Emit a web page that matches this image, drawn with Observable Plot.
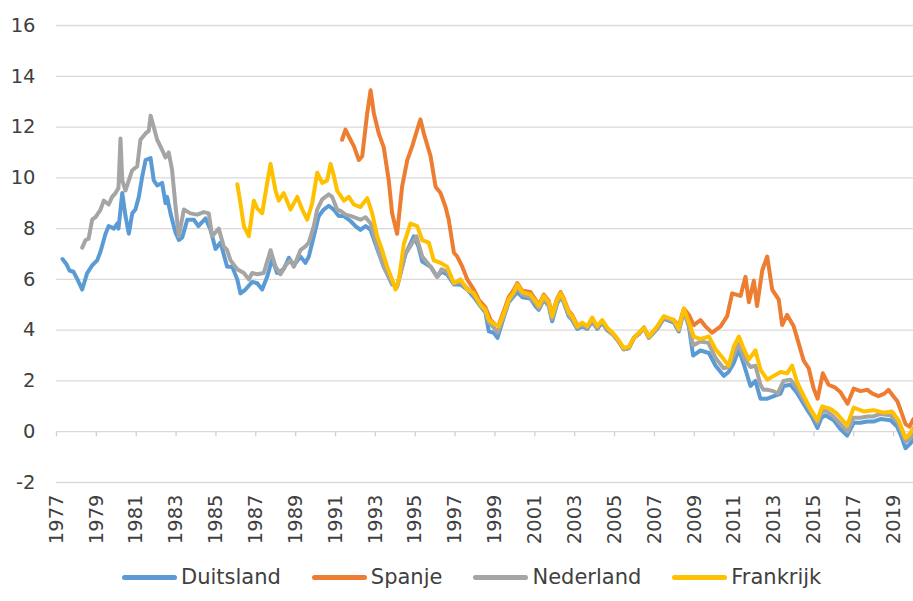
<!DOCTYPE html>
<html>
<head>
<meta charset="utf-8">
<script src="https://cdn.jsdelivr.net/npm/d3@7"></script>
<script src="https://cdn.jsdelivr.net/npm/@observablehq/plot@0.6"></script>
<style>
  html, body { margin: 0; padding: 0; background: #fff; }
  #legend { display: flex; align-items: center; height: 50px; margin-left: 122px;
    font-family: "DejaVu Sans", sans-serif; font-size: 21px; color: #404040; }
  #legend .item { display: flex; align-items: center; margin-right: 31px; }
  #legend .sw { display: inline-block; width: 55px; height: 5px; border-radius: 2.5px; margin-right: 4px; }
</style>
</head>
<body>
<div id="chart"></div>
<div id="legend"></div>
<script>
const landen = ["Duitsland", "Spanje", "Nederland", "Frankrijk"];
const kleuren = ["#5B9BD5", "#ED7D31", "#A5A5A5", "#FFC000"];
const xTicks = [1977,1979,1981,1983,1985,1987,1989,1991,1993,1995,1997,1999,2001,2003,2005,2007,2009,2011,2013,2015,2017,2019];
const yTicks = [-2,0,2,4,6,8,10,12,14,16];

const duitsland = [
[1977.30,6.8],[1977.50,6.6],[1977.65,6.35],[1977.85,6.3],[1978.05,6.0],[1978.29,5.6],[1978.54,6.25],[1978.79,6.55],
[1979.04,6.75],[1979.21,7.1],[1979.46,7.8],[1979.62,8.1],[1979.88,8.0],[1980.05,8.2],[1980.11,8.0],[1980.30,9.4],
[1980.46,8.5],[1980.63,7.8],[1980.80,8.6],[1980.96,8.75],[1981.13,9.25],[1981.30,10.05],[1981.47,10.7],[1981.72,10.78],
[1981.88,9.9],[1982.05,9.7],[1982.30,9.8],[1982.47,9.0],[1982.55,9.25],[1982.72,8.6],[1982.97,7.85],[1983.14,7.55],
[1983.31,7.65],[1983.56,8.35],[1983.89,8.35],[1984.12,8.1],[1984.48,8.4],[1984.73,7.95],[1984.98,7.2],[1985.23,7.45],
[1985.56,6.5],[1985.82,6.5],[1986.07,6.0],[1986.23,5.45],[1986.48,5.6],[1986.82,5.9],[1987.07,5.85],[1987.32,5.6],
[1987.57,6.1],[1987.82,6.8],[1988.07,6.25],[1988.40,6.4],[1988.66,6.85],[1988.91,6.55],[1989.24,6.9],[1989.49,6.65],
[1989.66,6.9],[1989.91,7.7],[1990.16,8.5],[1990.41,8.75],[1990.66,8.9],[1990.91,8.75],[1991.16,8.5],[1991.40,8.5],
[1991.75,8.3],[1992.00,8.1],[1992.25,7.95],[1992.51,8.1],[1992.76,7.95],[1993.09,7.2],[1993.42,6.5],[1993.84,5.8],
[1994.09,5.75],[1994.51,7.0],[1994.93,7.7],[1995.16,7.3],[1995.35,6.7],[1995.77,6.5],[1996.10,6.1],[1996.32,6.3],
[1996.60,6.2],[1996.94,5.8],[1997.27,5.8],[1997.61,5.6],[1997.94,5.3],[1998.27,4.95],[1998.52,4.7],[1998.69,3.95],
[1998.94,3.9],[1999.13,3.7],[1999.44,4.5],[1999.69,5.1],[1999.95,5.35],[2000.12,5.5],[2000.37,5.3],[2000.78,5.25],
[2001.03,4.95],[2001.20,4.8],[2001.45,5.2],[2001.70,4.95],[2001.87,4.35],[2002.12,5.05],[2002.29,5.3],[2002.45,5.1],
[2002.70,4.55],[2002.87,4.4],[2003.13,4.05],[2003.38,4.15],[2003.63,4.05],[2003.88,4.35],[2004.13,4.05],[2004.38,4.3],
[2004.63,4.0],[2004.96,3.8],[2005.21,3.55],[2005.46,3.25],[2005.72,3.3],[2005.97,3.7],[2006.22,3.85],[2006.47,4.1],
[2006.72,3.7],[2007.14,4.05],[2007.47,4.45],[2007.97,4.3],[2008.22,3.95],[2008.48,4.75],[2008.73,4.15],[2008.94,3.0],
[2009.31,3.2],[2009.73,3.1],[2010.07,2.6],[2010.48,2.2],[2010.72,2.35],[2010.98,2.7],[2011.24,3.25],[2011.57,2.45],
[2011.82,1.8],[2012.07,2.0],[2012.32,1.3],[2012.66,1.3],[2012.99,1.4],[2013.33,1.5],[2013.48,1.8],[2013.83,1.85],
[2014.18,1.5],[2014.68,0.85],[2014.93,0.55],[2015.18,0.15],[2015.38,0.55],[2015.58,0.65],[2016.00,0.45],[2016.34,0.1],
[2016.67,-0.15],[2017.00,0.35],[2017.34,0.35],[2017.68,0.4],[2017.99,0.4],[2018.34,0.5],[2018.85,0.45],[2019.18,0.2],
[2019.40,-0.2],[2019.60,-0.65],[2019.80,-0.5],[2020.00,-0.3]
];

const spanje = [
[1991.33,11.5],[1991.50,11.9],[1991.75,11.5],[1991.92,11.25],[1992.17,10.7],[1992.34,10.85],[1992.59,12.55],[1992.76,13.45],
[1992.92,12.55],[1993.17,11.75],[1993.42,11.2],[1993.67,9.9],[1993.84,8.6],[1994.09,7.8],[1994.34,9.65],[1994.60,10.7],
[1994.85,11.25],[1995.10,11.9],[1995.26,12.3],[1995.43,11.75],[1995.77,10.85],[1996.02,9.65],[1996.27,9.4],[1996.52,8.85],
[1996.68,8.35],[1996.94,7.05],[1997.11,6.9],[1997.36,6.5],[1997.61,6.0],[1997.94,5.6],[1998.19,5.2],[1998.52,4.9],
[1998.78,4.4],[1999.03,4.2],[1999.19,4.2],[1999.44,4.75],[1999.69,5.3],[1999.95,5.6],[2000.12,5.85],[2000.37,5.55],
[2000.78,5.5],[2001.03,5.2],[2001.20,5.0],[2001.45,5.4],[2001.70,5.15],[2001.87,4.6],[2002.12,5.25],[2002.29,5.5],
[2002.45,5.25],[2002.70,4.75],[2002.87,4.6],[2003.13,4.2],[2003.38,4.25],[2003.63,4.1],[2003.88,4.45],[2004.13,4.1],
[2004.38,4.35],[2004.63,4.05],[2004.96,3.8],[2005.21,3.55],[2005.46,3.25],[2005.72,3.3],[2005.97,3.7],[2006.22,3.85],
[2006.47,4.1],[2006.72,3.75],[2007.14,4.1],[2007.47,4.5],[2007.97,4.4],[2008.22,4.15],[2008.48,4.85],[2008.73,4.6],
[2008.98,4.2],[2009.31,4.4],[2009.56,4.15],[2009.90,3.9],[2010.32,4.15],[2010.65,4.55],[2010.90,5.45],[2011.32,5.35],
[2011.57,6.1],[2011.74,5.1],[2011.99,5.95],[2012.15,4.95],[2012.41,6.35],[2012.66,6.9],[2012.91,5.6],[2013.24,5.2],
[2013.41,4.2],[2013.66,4.6],[2013.99,4.15],[2014.23,3.5],[2014.49,2.8],[2014.74,2.5],[2014.99,1.7],[2015.19,1.3],
[2015.45,2.3],[2015.74,1.85],[2016.05,1.75],[2016.34,1.55],[2016.69,1.1],[2017.00,1.7],[2017.34,1.6],[2017.69,1.65],
[2017.94,1.5],[2018.24,1.4],[2018.54,1.5],[2018.74,1.65],[2018.99,1.4],[2019.19,1.2],[2019.40,0.75],[2019.60,0.3],
[2019.80,0.2],[2020.00,0.5]
];

const nederland = [
[1978.29,7.25],[1978.46,7.55],[1978.61,7.6],[1978.79,8.35],[1978.96,8.45],[1979.21,8.75],[1979.37,9.1],[1979.62,8.95],
[1979.79,9.25],[1979.96,9.4],[1980.11,9.6],[1980.21,11.55],[1980.30,9.9],[1980.46,9.5],[1980.63,9.9],[1980.80,10.3],
[1981.05,10.45],[1981.21,11.5],[1981.47,11.75],[1981.63,11.85],[1981.72,12.45],[1981.88,12.0],[1982.05,11.5],[1982.30,11.1],
[1982.47,10.8],[1982.63,11.0],[1982.80,10.3],[1982.97,8.9],[1983.14,7.7],[1983.39,8.75],[1983.72,8.6],[1984.06,8.55],
[1984.39,8.65],[1984.64,8.6],[1984.81,7.7],[1985.14,8.0],[1985.39,7.3],[1985.56,7.15],[1985.73,6.75],[1986.07,6.4],
[1986.40,6.25],[1986.65,6.0],[1986.82,6.25],[1987.07,6.2],[1987.40,6.25],[1987.74,7.15],[1987.99,6.5],[1988.24,6.2],
[1988.49,6.55],[1988.74,6.75],[1988.91,6.5],[1989.24,7.15],[1989.49,7.3],[1989.66,7.45],[1989.91,8.1],[1990.08,8.75],
[1990.33,9.15],[1990.66,9.35],[1990.83,9.25],[1991.08,8.75],[1991.25,8.7],[1991.50,8.55],[1991.75,8.5],[1992.25,8.35],
[1992.51,8.45],[1992.76,8.2],[1993.09,7.3],[1993.42,6.5],[1993.84,5.85],[1994.09,5.7],[1994.51,7.0],[1994.91,7.5],
[1995.06,7.7],[1995.35,6.9],[1995.77,6.5],[1996.10,6.1],[1996.32,6.4],[1996.60,6.3],[1996.94,5.85],[1997.27,5.9],
[1997.61,5.65],[1997.94,5.4],[1998.27,5.0],[1998.52,4.75],[1998.69,4.3],[1998.94,4.1],[1999.13,3.9],[1999.44,4.55],
[1999.69,5.15],[1999.95,5.45],[2000.12,5.7],[2000.37,5.4],[2000.78,5.3],[2001.03,5.05],[2001.20,4.85],[2001.45,5.25],
[2001.70,5.0],[2001.87,4.45],[2002.12,5.1],[2002.29,5.35],[2002.45,5.15],[2002.70,4.6],[2002.87,4.45],[2003.13,4.1],
[2003.38,4.2],[2003.63,4.1],[2003.88,4.4],[2004.13,4.1],[2004.38,4.35],[2004.63,4.05],[2004.96,3.8],[2005.21,3.55],
[2005.46,3.25],[2005.72,3.3],[2005.97,3.7],[2006.22,3.85],[2006.47,4.1],[2006.72,3.7],[2007.14,4.1],[2007.47,4.5],
[2007.97,4.35],[2008.22,4.0],[2008.48,4.8],[2008.73,4.2],[2008.94,3.4],[2009.31,3.55],[2009.71,3.5],[2010.07,2.9],
[2010.47,2.5],[2010.72,2.55],[2010.97,3.0],[2011.22,3.45],[2011.57,2.8],[2011.82,2.55],[2012.07,2.6],[2012.32,1.85],
[2012.47,1.65],[2012.67,1.65],[2012.97,1.6],[2013.18,1.5],[2013.33,1.75],[2013.48,2.0],[2013.83,2.05],[2014.18,1.7],
[2014.68,1.0],[2014.93,0.7],[2015.18,0.35],[2015.38,0.75],[2015.58,0.85],[2015.99,0.6],[2016.34,0.3],[2016.69,0.0],
[2016.99,0.55],[2017.34,0.55],[2017.69,0.6],[2017.99,0.6],[2018.34,0.7],[2018.84,0.65],[2019.19,0.4],[2019.40,0.0],
[2019.60,-0.4],[2019.80,-0.3],[2020.00,-0.1]
];

const frankrijk = [
[1986.07,9.75],[1986.23,9.0],[1986.40,8.1],[1986.65,7.7],[1986.90,9.1],[1987.07,8.8],[1987.32,8.6],[1987.57,9.8],
[1987.74,10.55],[1987.99,9.5],[1988.15,9.1],[1988.40,9.4],[1988.74,8.75],[1989.08,9.25],[1989.33,8.75],[1989.58,8.35],
[1989.83,9.0],[1990.08,10.2],[1990.33,9.8],[1990.58,9.9],[1990.75,10.55],[1990.91,10.1],[1991.08,9.5],[1991.42,9.1],
[1991.67,9.25],[1991.92,8.95],[1992.25,8.85],[1992.59,9.2],[1992.84,8.6],[1993.09,7.7],[1993.34,7.15],[1993.59,6.5],
[1993.84,6.0],[1994.01,5.6],[1994.18,6.0],[1994.43,7.4],[1994.76,8.2],[1995.10,8.1],[1995.35,7.55],[1995.68,7.45],
[1995.93,6.75],[1996.27,6.65],[1996.60,6.5],[1996.94,5.85],[1997.27,6.0],[1997.61,5.6],[1997.94,5.45],[1998.27,5.0],
[1998.52,4.8],[1998.69,4.4],[1998.94,4.25],[1999.19,4.15],[1999.44,4.65],[1999.69,5.2],[1999.95,5.5],[2000.12,5.8],
[2000.37,5.5],[2000.78,5.4],[2001.03,5.15],[2001.20,4.95],[2001.45,5.35],[2001.70,5.1],[2001.87,4.55],[2002.12,5.2],
[2002.29,5.45],[2002.45,5.2],[2002.70,4.7],[2002.87,4.55],[2003.13,4.15],[2003.38,4.3],[2003.63,4.15],[2003.88,4.5],
[2004.13,4.15],[2004.38,4.4],[2004.63,4.1],[2004.96,3.85],[2005.21,3.6],[2005.46,3.3],[2005.72,3.35],[2005.97,3.7],
[2006.22,3.9],[2006.47,4.1],[2006.72,3.75],[2007.14,4.15],[2007.47,4.55],[2007.97,4.4],[2008.22,4.05],[2008.48,4.85],
[2008.73,4.3],[2008.98,3.75],[2009.31,3.65],[2009.73,3.75],[2010.07,3.25],[2010.48,2.85],[2010.72,2.6],[2010.98,3.35],
[2011.24,3.75],[2011.49,3.25],[2011.74,2.85],[2012.07,3.2],[2012.32,2.45],[2012.66,2.05],[2012.99,2.2],[2013.33,2.35],
[2013.66,2.3],[2013.91,2.6],[2014.16,1.95],[2014.50,1.4],[2014.83,0.9],[2015.17,0.45],[2015.42,1.0],[2015.84,0.9],
[2016.17,0.7],[2016.67,0.25],[2017.00,0.95],[2017.50,0.8],[2018.00,0.85],[2018.50,0.75],[2018.92,0.8],[2019.25,0.45],
[2019.60,-0.25],[2019.80,-0.1],[2020.00,0.15]
];

const tickLengte = 0.2; // length of the small x ticks below the zero line, in y units

const reeksen = [duitsland, spanje, nederland, frankrijk];
const rows = reeksen.flatMap((r, i) => r.map(([t, v]) => ({land: landen[i], t, v})));

const chart = Plot.plot({
  width: 913,
  height: 552,
  marginLeft: 56,
  marginRight: 0,
  marginTop: 25,
  marginBottom: 70,
  style: {fontFamily: "DejaVu Sans, sans-serif", fontSize: "19.5px", color: "#404040", background: "#fff"},
  x: {domain: [1977, 2020], ticks: xTicks, tickFormat: d => String(d), tickRotate: -90, tickSize: 0, tickPadding: 12, label: null},
  y: {domain: [-2, 16], ticks: yTicks, tickFormat: d => String(d), tickSize: 0, tickPadding: 21, label: null},
  color: {domain: landen, range: kleuren},
  marks: [
    Plot.ruleY(yTicks, {stroke: "#d9d9d9", strokeWidth: 1.3}),
    Plot.ruleX(xTicks, {x: d => d, y1: 0, y2: -tickLengte, stroke: "#d0d0d0", strokeWidth: 1.3}),
    Plot.line(rows, {x: "t", y: "v", z: "land", stroke: "land", strokeWidth: 4, strokeLinejoin: "round", strokeLinecap: "round"})
  ]
});
document.getElementById("chart").appendChild(chart);

const legend = document.getElementById("legend");
landen.forEach((l, i) => {
  const item = document.createElement("div");
  item.className = "item";
  item.innerHTML = `<span class="sw" style="background:${kleuren[i]}"></span><span>${l}</span>`;
  legend.appendChild(item);
});
</script>
</body>
</html>
